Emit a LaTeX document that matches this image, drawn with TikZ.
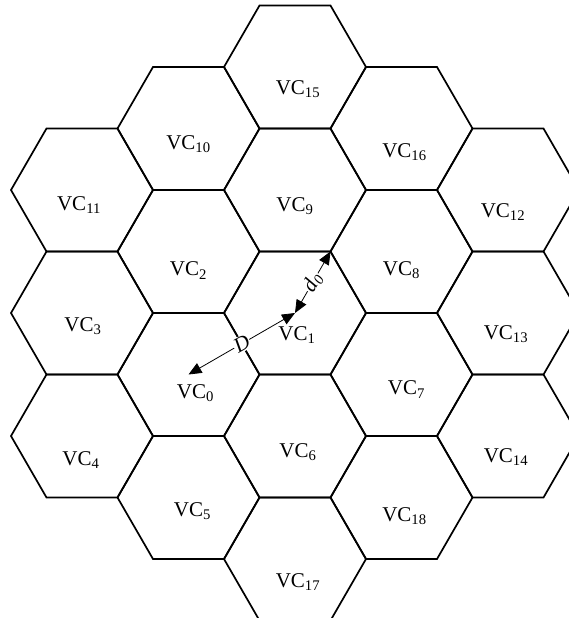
\documentclass[tikz,border=0pt]{standalone}
\usepackage{fontspec}
\setmainfont{Liberation Serif}
\usetikzlibrary{arrows.meta}

\newcommand{\vclabel}[1]{VC\textsubscript{#1}}

\tikzset{
  cell/.style={line width=1.7pt, line join=miter},
  celltext/.style={font=\fontsize{21}{25}\selectfont, inner sep=0pt},
  dist/.style={line width=0.8pt, {Triangle[length=13pt,width=11pt]}-{Triangle[length=13pt,width=11pt]}},
  distlabel/.style={fill=white, inner sep=1pt, sloped, font=\fontsize{21}{24}\selectfont\itshape}
}

\begin{document}
\begin{tikzpicture}[x=1pt, y=-1pt]
  \useasboundingbox (0,0) rectangle (569,618);
  \clip (0,0) rectangle (569,618);

  % --- hexagonal cells: index / centre / label shift ---
  \foreach \n/\cx/\cy/\dx/\dy in {
      11/82/190/-3/15, 3/82/313/1/13, 4/82/436/-1/24,
      10/188.5/128.5/0/16, 2/188.5/251.5/0/19, 0/188.5/374.5/7/19, 5/188.5/497.5/4/14,
      15/295/67/3/22, 9/295/190/0/16, 1/295/313/2/22, 6/295/436/3/16, 17/295/559/3/23,
      16/401.5/128.5/3/24, 8/401.5/251.5/0/19, 7/401.5/374.5/5/15, 18/401.5/497.5/3/19,
      12/508/190/-5/22, 13/508/313/-2/21, 14/508/436/-2/21}{
    \coordinate (c\n) at (\cx,\cy);
    \draw[cell] (c\n) ++(71,0) -- ++(-35.5,61.5) -- ++(-71,0) -- ++(-35.5,-61.5)
      -- ++(35.5,-61.5) -- ++(71,0) -- cycle;
    \node[celltext] (vc\n) at ([shift={(\dx,\dy)}]c\n) {\vclabel{\n}};
  }

  % --- distances ---
  \coordinate (corner) at ([shift={(35.5,-61.5)}]c1);
  \draw[dist] (c0) -- node[distlabel] {D} (c1);
  \draw[dist] (c1) -- node[distlabel] {d\textsubscript{0}} (corner);
\end{tikzpicture}
\end{document}
